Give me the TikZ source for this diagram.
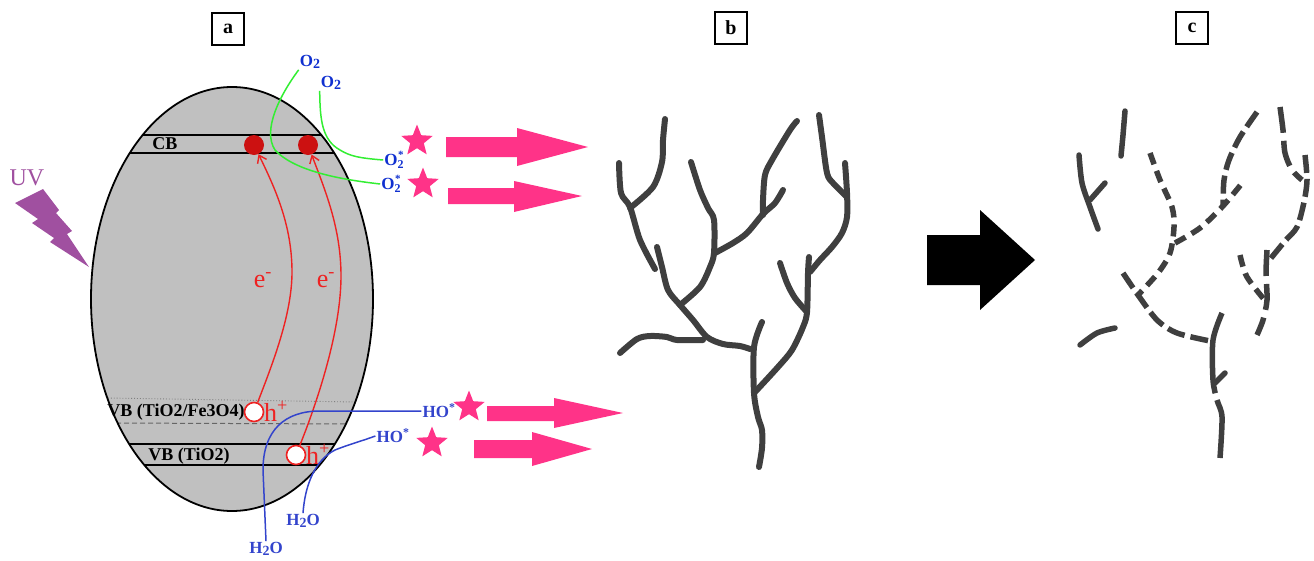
\documentclass[tikz,border=0pt]{standalone}
\usepackage{fontspec}
\setmainfont{Liberation Serif}
\usetikzlibrary{shapes.geometric,arrows.meta}
\definecolor{particle}{HTML}{C0C0C0}
\definecolor{elec}{HTML}{EE2222}
\definecolor{elecdot}{HTML}{CC1111}
\definecolor{oxblue}{HTML}{1030D0}
\definecolor{hoblue}{HTML}{3344CC}
\definecolor{oxgreen}{HTML}{33EE33}
\definecolor{radical}{HTML}{FF3388}
\definecolor{uvpurple}{HTML}{A050A0}
\definecolor{fibre}{HTML}{3F3F3F}
\tikzset{
  panel/.style={draw, line width=1.6pt, minimum width=32pt, minimum height=32pt, inner sep=0pt,
                font=\fontsize{20}{22}\selectfont\bfseries},
  bandline/.style={line width=1.8pt},
  bandlabel/.style={font=\fontsize{18}{20}\selectfont\bfseries, inner sep=0pt},
  chargelabel/.style={text=elec, font=\fontsize{26}{28}\selectfont, inner sep=0pt},
  edot/.style={circle, fill=elecdot, minimum size=20pt, inner sep=0pt},
  hole/.style={circle, draw=elec, fill=white, line width=1.6pt, minimum size=19pt, inner sep=0pt},
  transfer/.style={draw=elec, line width=1.4pt, -{Straight Barb[length=7pt,width=10pt,line width=1.4pt]}},
  oxlabel/.style={text=oxblue, font=\fontsize{17}{19}\selectfont\bfseries, inner sep=1pt},
  holabel/.style={text=hoblue, font=\fontsize{17}{19}\selectfont\bfseries, inner sep=1pt},
  oxpath/.style={draw=oxgreen, line width=1.5pt},
  hopath/.style={draw=hoblue, line width=1.5pt},
  pstar/.style={star, star points=5, star point ratio=2.3, minimum size=33pt, fill=radical, inner sep=0pt},
  pinkarrow/.style={fill=radical},
  fibreline/.style={draw=fibre, line width=6pt, line cap=round, line join=round},
  brokenA/.style={fibreline, line cap=butt, dash pattern=on 12pt off 7pt},
  brokenB/.style={fibreline, line cap=butt, dash pattern=on 18pt off 6pt},
  brokenC/.style={fibreline, line cap=butt, dash pattern=on 26pt off 8pt},
}
% superoxide radical: O with a small 2 below a small *
\newcommand{\superox}{O\raisebox{-0.2em}{\fontsize{12}{12}\selectfont 2}\llap{\raisebox{0.42em}{\fontsize{11}{11}\selectfont *}}}
\begin{document}
\begin{tikzpicture}[x=1pt,y=-1pt]
\useasboundingbox (0,0) rectangle (1314,560);

% panel tags
\node[panel] (tagA) at (228,29) {a};
\node[panel] (tagB) at (731,28) {b};
\node[panel] (tagC) at (1192,28) {c};

% ---------- panel a: the photocatalyst particle ----------
\fill[particle] (232,299) ellipse [x radius=141, y radius=212];
\begin{scope}
  \clip (232,299) ellipse [x radius=141, y radius=212];
  \draw[bandline] (80,135) -- (390,135);
  \draw[bandline] (80,153) -- (390,153);
  \draw[bandline] (80,444) -- (390,444);
  \draw[bandline] (80,465) -- (390,465);
  \draw[gray, line width=0.9pt, dotted] (108,398) -- (356,402);
  \draw[gray!80!black, line width=1pt, dash pattern=on 5pt off 3pt] (116,423) -- (348,424);
\end{scope}
\draw[line width=1.8pt] (232,299) ellipse [x radius=141, y radius=212];

\node[bandlabel] (cb) at (165,144) {CB};
\node[bandlabel] (vbmix) at (176,412) {VB (TiO2/Fe3O4)};
\node[bandlabel] (vbti) at (189,456) {VB (TiO2)};

% UV excitation
\node[text=uvpurple, font=\fontsize{24}{26}\selectfont, inner sep=0pt] (uv) at (27,178) {UV};
\fill[uvpurple] (15,203) -- (43,189) -- (59,210) -- (56,213) -- (72,231) -- (67,234)
  -- (89,267) -- (50,242) -- (54,238) -- (32,223) -- (38,219) -- cycle;

% electrons in CB, holes in VB
\node[edot] (e1) at (254,145) {};
\node[edot] (e2) at (308,145) {};
\node[hole] (h1) at (254,412) {};
\node[hole] (h2) at (296,455) {};
\node[chargelabel, anchor=base west] (hl1) at (264,421) {h\textsuperscript{+}};
\node[chargelabel, anchor=base west] (hl2) at (306,464) {h\textsuperscript{+}};
\node[chargelabel, anchor=base] (el1) at (263,287) {e\textsuperscript{-}};
\node[chargelabel, anchor=base] (el2) at (326,287) {e\textsuperscript{-}};

\draw[transfer] (h1) .. controls (272,365) and (292,315) .. (292,272)
  .. controls (292,225) and (275,188) .. (e1);
\draw[transfer] (h2) .. controls (318,400) and (341,330) .. (341,276)
  .. controls (341,228) and (325,190) .. (e2);

% oxygen reduction
\node[oxlabel] (o2a) at (310,62) {O\raisebox{-0.12em}{\fontsize{14}{15}\selectfont 2}};
\node[oxlabel] (o2b) at (331,83) {O\raisebox{-0.12em}{\fontsize{14}{15}\selectfont 2}};
\node[oxlabel] (sup1) at (394,160) {\superox};
\node[oxlabel] (sup2) at (391,184) {\superox};
\draw[oxpath] (o2a.south west) .. controls (280,95) and (262,130) .. (275,150)
  .. controls (295,172) and (345,180) .. (sup2.west);
\draw[oxpath] (o2b.south west) .. controls (320,120) and (322,140) .. (340,150)
  .. controls (350,156) and (358,158) .. (sup1.west);

% water oxidation
\node[holabel] (h2oa) at (266,549) {H\raisebox{-0.12em}{\fontsize{14}{15}\selectfont 2}O};
\node[holabel] (h2ob) at (303,521) {H\raisebox{-0.12em}{\fontsize{14}{15}\selectfont 2}O};
\node[holabel] (hoa) at (439,411) {HO\textsuperscript{*}};
\node[holabel] (hob) at (393,436) {HO\textsuperscript{*}};
\draw[hopath] (h2oa.north) -- (263,470) .. controls (263,430) and (285,411) .. (320,411) -- (hoa.west);
\draw[hopath] (h2ob.north) .. controls (305,485) and (315,460) .. (335,450)
  .. controls (350,444) and (362,441) .. (hob.west);

% radicals and their flux towards the fibres
\node[pstar] (st1) at (417,141) {};
\node[pstar] (st2) at (423,184) {};
\node[pstar] (st3) at (469,407) {};
\node[pstar] (st4) at (432,443) {};
\fill[pinkarrow] (446,137) -- (517,137) -- (517,128) -- (588,147) -- (517,166) -- (517,157) -- (446,157) -- cycle;
\fill[pinkarrow] (448,188) -- (514,188) -- (514,181) -- (582,196) -- (514,212) -- (514,204) -- (448,204) -- cycle;
\fill[pinkarrow] (487,406) -- (554,406) -- (554,398) -- (623,413) -- (554,428) -- (554,421) -- (487,421) -- cycle;
\fill[pinkarrow] (474,440) -- (532,440) -- (532,432) -- (592,449) -- (532,466) -- (532,458) -- (474,458) -- cycle;

% ---------- panel b: intact fibre network ----------
\draw[fibreline] plot[smooth] coordinates {(665,119) (663,140) (662,162) (653,187) (630,208)};
\draw[fibreline] plot[smooth] coordinates {(619,163) (621,193) (630,207) (640,240) (655,269)};
\draw[fibreline] plot[smooth] coordinates {(691,162) (700,190) (708,208) (714,220) (714,253) (710,267) (700,287) (680,305)};
\draw[fibreline] plot[smooth] coordinates {(715,253) (733,243) (747,233) (763,214) (775,203) (783,190)};
\draw[fibreline] plot[smooth] coordinates {(797,121) (790,130) (772,160) (765,175) (763,200) (763,215)};
\draw[fibreline] plot[smooth] coordinates {(819,115) (822,137) (827,173) (833,183) (847,197)};
\draw[fibreline] plot[smooth] coordinates {(845,163) (847,193) (847,217) (842,233) (832,247) (820,260) (810,272)};
\draw[fibreline] plot[smooth] coordinates {(809,257) (808,273) (807,312) (803,327) (792,350) (778,367) (755,392)};
\draw[fibreline] plot[smooth] coordinates {(780,263) (787,283) (795,298) (807,312)};
\draw[fibreline] plot[smooth] coordinates {(657,247) (662,267) (668,290) (680,305) (693,320) (707,337) (723,344) (740,346) (750,349)};
\draw[fibreline] plot[smooth] coordinates {(620,353) (637,339) (650,336) (667,337) (677,340) (703,340)};
\draw[fibreline] plot[smooth] coordinates {(762,322) (754,347) (754,393) (758,417) (762,430) (762,448) (759,467)};

% transition arrow
\fill[black] (927,235) -- (980,235) -- (980,210) -- (1035,260) -- (980,310) -- (980,285) -- (927,285) -- cycle;

% ---------- panel c: degraded fibre network ----------
\draw[fibreline, line width=5.5pt] plot[smooth] coordinates {(1125,111) (1123,135) (1121,156)};
\draw[fibreline, line width=5.5pt] plot[smooth] coordinates {(1079,155) (1082,183) (1090,207) (1098,229)};
\draw[fibreline, line width=5.5pt] (1090,200) -- (1105,183);
\draw[brokenA, line width=5.5pt] plot[smooth] coordinates {(1150,153) (1160,180) (1172,207) (1174,227) (1170,253) (1158,273) (1138,295)};
\draw[brokenA, line width=5.5pt] plot[smooth] coordinates {(1175,243) (1200,228) (1223,206) (1243,182)};
\draw[brokenB, line width=5.5pt] plot[smooth] coordinates {(1257,112) (1240,137) (1229,160) (1224,180) (1223,205)};
\draw[brokenC, line width=5.5pt] plot[smooth] coordinates {(1280,107) (1283,130) (1285,153) (1292,170) (1302,180)};
\draw[brokenB, line width=5.5pt] plot[smooth] coordinates {(1305,155) (1307,180) (1304,202) (1297,227) (1285,241) (1267,263)};
\draw[brokenC, line width=5.5pt] plot[smooth] coordinates {(1267,250) (1266,273) (1267,300) (1263,320) (1257,335)};
\draw[brokenA, line width=5.5pt] plot[smooth] coordinates {(1240,255) (1247,277) (1267,303)};
\draw[brokenB, line width=5.5pt] plot[smooth] coordinates {(1123,273) (1138,295) (1157,320) (1177,333) (1210,341)};
\draw[fibreline, line width=5.5pt] plot[smooth] coordinates {(1080,345) (1097,333) (1115,328)};
\draw[fibreline, line width=5.5pt, line cap=butt, dash pattern=on 82pt off 7pt on 60pt] plot[smooth] coordinates {(1222,313) (1213,340) (1213,380) (1217,400) (1222,417) (1220,458)};
\draw[fibreline, line width=5.5pt] (1215,383) -- (1225,373);
\end{tikzpicture}
\end{document}
